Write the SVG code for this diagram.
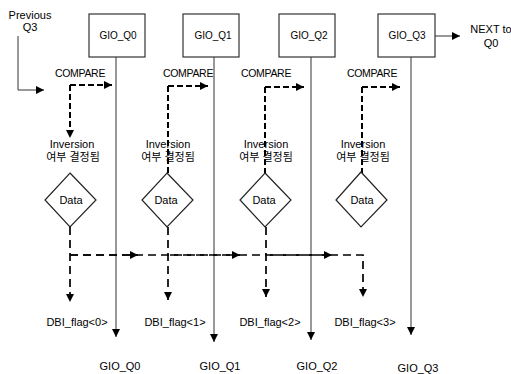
<svg xmlns="http://www.w3.org/2000/svg" width="511" height="374" viewBox="0 0 511 374">
<defs>
<marker id="ah" viewBox="0 0 10 10" refX="10" refY="5" markerWidth="10" markerHeight="8" markerUnits="userSpaceOnUse" orient="auto"><path d="M0,0 L10,5 L0,10 z" fill="#000"/></marker>
<marker id="ahs" viewBox="0 0 10 10" refX="10" refY="5" markerWidth="8" markerHeight="8" markerUnits="userSpaceOnUse" orient="auto"><path d="M0,0 L10,5 L0,10 z" fill="#000"/></marker>
</defs>
<style>
text{font-family:"Liberation Sans",Arial,"Noto Sans CJK KR",sans-serif;font-size:11px;fill:#000;text-anchor:middle}
.box{fill:#fff;stroke:#333;stroke-width:1.2}
.dia{fill:#fff;stroke:#222;stroke-width:1.2}
.solid{fill:none;stroke:#333;stroke-width:1}
.dash{fill:none;stroke:#000;stroke-width:2;stroke-dasharray:6,3}
.dashl{fill:none;stroke:#000;stroke-width:1.7;stroke-dasharray:8,5}
.cmp{font-size:10.5px;letter-spacing:-0.3px}
.gio{font-size:10px}
</style>
<rect width="511" height="374" fill="#fff"/>
<g id="connectors">
<path class="solid" d="M18,36 V90 H44" marker-end="url(#ah)"/>
<path class="solid" d="M435,36 H460" marker-end="url(#ah)"/>
<path class="solid" d="M116,57 V337" marker-end="url(#ahs)"/>
<path class="solid" d="M214,57 V342" marker-end="url(#ahs)"/>
<path class="solid" d="M311,57 V340" marker-end="url(#ahs)"/>
<path class="solid" d="M411,57 V335" marker-end="url(#ahs)"/>
<path class="dash" d="M70,85 H112" marker-end="url(#ah)"/>
<path class="dash" d="M70,85 V138" marker-end="url(#ah)"/>
<path class="dash" d="M168,86 H208" marker-end="url(#ah)"/>
<path class="dash" d="M168,86 V173"/>
<path class="dash" d="M265,87 H304" marker-end="url(#ah)"/>
<path class="dash" d="M265,87 V173"/>
<path class="dash" d="M362,87 H400" marker-end="url(#ah)"/>
<path class="dash" d="M362,87 V173"/>
<path class="dashl" d="M70,227 V302" marker-end="url(#ah)"/>
<path class="dashl" d="M70,255 H363 V297" marker-end="url(#ah)"/>
<path class="dashl" d="M70,255 H138" marker-end="url(#ah)"/>
<path class="dashl" d="M170,255 H240" marker-end="url(#ah)"/>
<path class="dashl" d="M270,255 H332" marker-end="url(#ah)"/>
<path class="dashl" d="M168,227 V300" marker-end="url(#ah)"/>
<path class="dashl" d="M266,227 V297" marker-end="url(#ah)"/>
</g>
<g id="prev"><text x="30" y="19">Previous</text><text x="30" y="31">Q3</text></g>
<g id="next"><text x="491" y="33">NEXT to</text><text x="491" y="47">Q0</text></g>
<g id="q0"><rect class="box" x="89" y="14" width="56" height="43"/><text class="gio" x="118" y="39">GIO_Q0</text></g>
<g id="q1"><rect class="box" x="183" y="14" width="56" height="43"/><text class="gio" x="213" y="39">GIO_Q1</text></g>
<g id="q2"><rect class="box" x="279" y="14" width="56" height="43"/><text class="gio" x="309" y="39">GIO_Q2</text></g>
<g id="q3"><rect class="box" x="378" y="14" width="57" height="43"/><text class="gio" x="407" y="39">GIO_Q3</text></g>
<g id="cmp0"><text class="cmp" x="80" y="77">COMPARE</text></g>
<g id="cmp1"><text class="cmp" x="188" y="77">COMPARE</text></g>
<g id="cmp2"><text class="cmp" x="266" y="77">COMPARE</text></g>
<g id="cmp3"><text class="cmp" x="372" y="77">COMPARE</text></g>
<g id="inv0"><text x="72" y="148">Inversion</text><text x="73" y="161">여부 결정됨</text></g>
<g id="inv1"><text x="168" y="148">Inversion</text><text x="168" y="161">여부 결정됨</text></g>
<g id="inv2"><text x="266" y="148">Inversion</text><text x="266" y="161">여부 결정됨</text></g>
<g id="inv3"><text x="363" y="148">Inversion</text><text x="363" y="161">여부 결정됨</text></g>
<g id="d0"><path class="dia" d="M70,173 L96,200 L70,227 L45,200 z"/><text x="71" y="204">Data</text></g>
<g id="d1"><path class="dia" d="M167,173 L193,200 L167,227 L142,200 z"/><text x="166" y="204">Data</text></g>
<g id="d2"><path class="dia" d="M265,173 L291,200 L265,227 L240,200 z"/><text x="264" y="204">Data</text></g>
<g id="d3"><path class="dia" d="M361,172 L387,200 L361,227 L336,200 z"/><text x="362" y="204">Data</text></g>
<g id="f0"><text x="77" y="326">DBI_flag&lt;0&gt;</text></g>
<g id="f1"><text x="175" y="326">DBI_flag&lt;1&gt;</text></g>
<g id="f2"><text x="270" y="326">DBI_flag&lt;2&gt;</text></g>
<g id="f3"><text x="365" y="326">DBI_flag&lt;3&gt;</text></g>
<g id="b0"><text x="120" y="370">GIO_Q0</text></g>
<g id="b1"><text x="220" y="370">GIO_Q1</text></g>
<g id="b2"><text x="317" y="370">GIO_Q2</text></g>
<g id="b3"><text x="418" y="372">GIO_Q3</text></g>
</svg>
